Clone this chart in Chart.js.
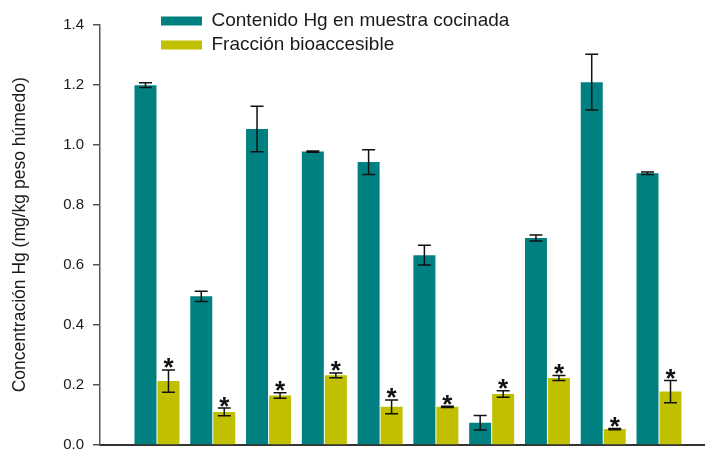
<!DOCTYPE html>
<html>
<head>
<meta charset="utf-8">
<script src="https://cdn.jsdelivr.net/npm/chart.js@4.4.0/dist/chart.umd.min.js"></script>
<style>
  html, body { margin: 0; padding: 0; background: #ffffff; }
  #wrap { width: 705px; height: 450px; }
</style>
</head>
<body>
<div id="wrap"><canvas id="c" width="705" height="450"></canvas></div>
<script>
// ---- data ----
const categories = ['1', '2', '3', '4', '5', '6', '7', '8', '9', '10'];
const seriesNames = ['Contenido Hg en muestra cocinada', 'Fracción bioaccesible'];
const cocinada = [1.198, 0.495, 1.052, 0.977, 0.942, 0.632, 0.074, 0.689, 1.208, 0.905];
const cocinadaErr = [0.008, 0.017, 0.076, 0.002, 0.041, 0.033, 0.024, 0.010, 0.093, 0.004];
const bioaccesible = [0.213, 0.110, 0.165, 0.232, 0.127, 0.127, 0.170, 0.223, 0.053, 0.178];
const bioaccesibleErr = [0.037, 0.013, 0.009, 0.008, 0.023, 0.002, 0.011, 0.008, 0.002, 0.037];
const significant = [true, true, true, true, true, true, true, true, true, true];
const yTickLabels = ['0.0', '0.2', '0.4', '0.6', '0.8', '1.0', '1.2', '1.4'];
const yTitle = 'Concentración Hg (mg/kg peso húmedo)';

const TEAL = '#008080';
const OLIVE = '#c0c000';
const FONT = "'Liberation Sans', Arial, sans-serif";
Chart.defaults.font.family = FONT;
Chart.defaults.color = '#1a1a1a';

const errors = [cocinadaErr, bioaccesibleErr];

const errorBarPlugin = {
  id: 'errorBars',
  afterLayout(chart) {
    // place legend block at upper left inside plot, like the reference
    const lg = chart.legend;
    if (lg) { lg.left = 156; lg.top = 6.5; }
  },
  afterDatasetsDraw(chart) {
    const ctx = chart.ctx;
    const yScale = chart.scales.y;
    ctx.save();
    chart.data.datasets.forEach((ds, d) => {
      const meta = chart.getDatasetMeta(d);
      meta.data.forEach((bar, i) => {
        const v = ds.data[i].y;
        const e = errors[d][i];
        const x = bar.x;
        const yt = yScale.getPixelForValue(v + e);
        const yb = yScale.getPixelForValue(v - e);
        ctx.strokeStyle = '#111111';
        ctx.lineWidth = 1.5;
        ctx.beginPath();
        ctx.moveTo(x, yt); ctx.lineTo(x, yb);
        ctx.moveTo(x - 6.5, yt); ctx.lineTo(x + 6.5, yt);
        ctx.moveTo(x - 6.5, yb); ctx.lineTo(x + 6.5, yb);
        ctx.stroke();
        if (d === 1 && significant[i]) {
          ctx.fillStyle = '#111111';
          ctx.font = 'bold 26px ' + FONT;
          ctx.textAlign = 'center';
          ctx.textBaseline = 'alphabetic';
          ctx.fillText('*', x, yt + 6.5);
        }
      });
    });
    ctx.restore();
  }
};

new Chart(document.getElementById('c'), {
  type: 'bar',
  data: {
    datasets: [
      {
        label: seriesNames[0],
        data: cocinada.map((v, i) => ({ x: i, y: v })),
        backgroundColor: TEAL,
        borderWidth: 0,
        categoryPercentage: 0.8247,
        barPercentage: 0.9565
      },
      {
        label: seriesNames[1],
        data: bioaccesible.map((v, i) => ({ x: i, y: v })),
        backgroundColor: OLIVE,
        borderWidth: 0,
        categoryPercentage: 0.8247,
        barPercentage: 0.9565
      }
    ]
  },
  options: {
    responsive: false,
    animation: false,
    layout: { padding: { left: 0, right: 0, top: 24.5, bottom: 5 } },
    scales: {
      x: {
        type: 'linear',
        offset: false,
        min: -1.0215,
        max: 9.8245,
        afterBuildTicks: (axis) => { axis.ticks = categories.map((c, i) => ({ value: i })); },
        afterFit: (axis) => { axis.height = 0; },
        ticks: { display: false },
        grid: { display: false, drawTicks: false, offset: false },
        border: { display: true, color: '#333333', width: 2 }
      },
      y: {
        min: 0,
        max: 1.4,
        afterFit: (axis) => { axis.width = 100; axis.paddingTop = 0; axis.paddingBottom = 0; },
        ticks: {
          stepSize: 0.2,
          padding: 9,
          font: { size: 15 },
          color: '#1a1a1a',
          callback: (v, i) => yTickLabels[i]
        },
        grid: { drawOnChartArea: false, drawTicks: true, tickLength: 7, color: '#555555', lineWidth: 1.5 },
        border: { display: true, color: '#555555', width: 1.5 },
        title: {
          display: true,
          text: yTitle,
          font: { size: 17.5 },
          color: '#1a1a1a',
          padding: { top: 10, bottom: 0 }
        }
      }
    },
    plugins: {
      tooltip: { enabled: false },
      legend: {
        position: 'chartArea',
        align: 'start',
        labels: {
          boxWidth: 41,
          boxHeight: 9,
          padding: 5,
          font: { size: 19 },
          color: '#1a1a1a'
        }
      }
    }
  },
  plugins: [errorBarPlugin]
});
</script>
</body>
</html>
